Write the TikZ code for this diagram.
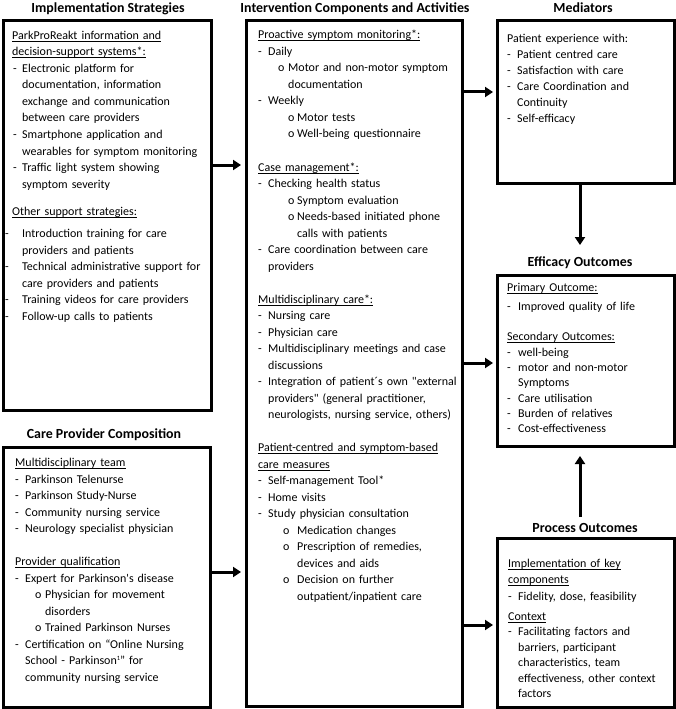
\documentclass[tikz,border=0pt]{standalone}
\usepackage{fontspec}
\setmainfont{Carlito}[Ligatures=TeXOff]
\usetikzlibrary{arrows.meta}
\newcommand{\Ln}[4]{\leavevmode\rlap{\hspace*{#1bp}#2}\hspace*{#3bp}#4\par}
\newcommand{\Hd}[1]{\leavevmode\setbox0\hbox{#1}\rlap{\rule[-2.2bp]{\wd0}{0.7bp}}\box0\par}
\newcommand{\Pl}[1]{\leavevmode #1\par}
\newcommand{\supone}{\raisebox{3.6bp}{\fontsize{6.5bp}{7bp}\selectfont 1}}
\begin{document}
\begin{tikzpicture}[x=1bp,y=-1bp,
  box/.style={draw, line width=3bp, rectangle, anchor=north west, inner sep=0, outer sep=0},
  ttl/.style={font=\bfseries\fontsize{13.9bp}{16bp}\selectfont, inner sep=0, anchor=base},
  body/.style={anchor=base west, inner sep=0, text width=240bp, align=left, font=\fontsize{12bp}{#1}\selectfont},
  arr/.style={line width=3bp, -{Triangle[length=8bp,width=10bp]}}]
\useasboundingbox (0,0) rectangle (676,709);
% boxes
\node[box, minimum width=208bp, minimum height=389bp] (impl) at (3,21) {};
\node[box, minimum width=207bp, minimum height=260bp] (care) at (3,447) {};
\node[box, minimum width=216bp, minimum height=685bp] (mid) at (246,21) {};
\node[box, minimum width=177bp, minimum height=162bp] (med) at (497,21) {};
\node[box, minimum width=177bp, minimum height=171bp] (eff) at (497,275) {};
\node[box, minimum width=177bp, minimum height=169bp] (proc) at (497,538) {};
% titles
\node[ttl] (timpl) at (108,12.5) {Implementation Strategies};
\node[ttl] (tmid) at (355,12.5) {Intervention Components and Activities};
\node[ttl] (tmed) at (583,12.5) {Mediators};
\node[ttl] (teff) at (580,266) {Efficacy Outcomes};
\node[ttl] (tcare) at (104,438) {Care Provider Composition};
\node[ttl] (tproc) at (585,532) {Process Outcomes};
% texts
\node[body=16.5bp] (ximpl) at (12,39.5) {%
\Hd{ParkProReakt information and}
\Hd{decision-support systems*:}
\Ln{1}{-}{10}{Electronic platform for}
\Ln{1}{}{10}{documentation, information}
\Ln{1}{}{10}{exchange and communication}
\Ln{1}{}{10}{between care providers}
\Ln{1}{-}{10}{Smartphone application and}
\Ln{1}{}{10}{wearables for symptom monitoring}
\Ln{1}{-}{10}{Traffic light system showing}
\Ln{1}{}{10}{symptom severity}
\vspace{11bp}
\Hd{Other support strategies:}
\vspace{5.5bp}
\Ln{-7}{-}{10}{Introduction training for care}
\Ln{-7}{}{10}{providers and patients}
\Ln{-7}{-}{10}{Technical administrative support for}
\Ln{-7}{}{10}{care providers and patients}
\Ln{-7}{-}{10}{Training videos for care providers}
\Ln{-7}{-}{10}{Follow-up calls to patients}};
\node[body=16.5bp] (xmid) at (258,39) {%
\Hd{Proactive symptom monitoring*:}
\Ln{0}{-}{10}{Daily}
\Ln{20}{o}{30}{Motor and non-motor symptom}
\Ln{20}{}{30}{documentation}
\Ln{0}{-}{10}{Weekly}
\Ln{30}{o}{39}{Motor tests}
\Ln{30}{o}{39}{Well-being questionnaire}
\vspace{16.5bp}
\Hd{Case management*:}
\Ln{0}{-}{10}{Checking health status}
\Ln{30}{o}{39}{Symptom evaluation}
\Ln{30}{o}{39}{Needs-based initiated phone}
\Ln{30}{}{39}{calls with patients}
\Ln{0}{-}{10}{Care coordination between care}
\Ln{0}{}{10}{providers}
\vspace{16.5bp}
\Hd{Multidisciplinary care*:}
\Ln{0}{-}{10}{Nursing care}
\Ln{0}{-}{10}{Physician care}
\Ln{0}{-}{10}{Multidisciplinary meetings and case}
\Ln{0}{}{10}{discussions}
\Ln{0}{-}{10}{Integration of patient´s own "external}
\Ln{0}{}{10}{providers" (general practitioner,}
\Ln{0}{}{10}{neurologists, nursing service, others)}
\vspace{16.5bp}
\Hd{Patient-centred and symptom-based}
\Hd{care measures}
\Ln{0}{-}{10}{Self-management Tool*}
\Ln{0}{-}{10}{Home visits}
\Ln{0}{-}{10}{Study physician consultation}
\Ln{25}{o}{39}{Medication changes}
\Ln{25}{o}{39}{Prescription of remedies,}
\Ln{25}{}{39}{devices and aids}
\Ln{25}{o}{39}{Decision on further}
\Ln{25}{}{39}{outpatient/inpatient care}};
\node[body=16.5bp] (xcare) at (15,466.5) {%
\Hd{Multidisciplinary team}
\Ln{0}{-}{10}{Parkinson Telenurse}
\Ln{0}{-}{10}{Parkinson Study-Nurse}
\Ln{0}{-}{10}{Community nursing service}
\Ln{0}{-}{10}{Neurology specialist physician}
\vspace{16.5bp}
\Hd{Provider qualification}
\Ln{0}{-}{10}{Expert for Parkinson's disease}
\Ln{20}{o}{30}{Physician for movement}
\Ln{20}{}{30}{disorders}
\Ln{20}{o}{30}{Trained Parkinson Nurses}
\Ln{0}{-}{10}{Certification on “Online Nursing}
\Ln{0}{}{10}{School - Parkinson\supone” for}
\Ln{0}{}{10}{community nursing service}};
\node[body=16bp] (xmed) at (507,42.5) {%
\Pl{Patient experience with:}
\Ln{0}{-}{10}{Patient centred care}
\Ln{0}{-}{10}{Satisfaction with care}
\Ln{0}{-}{10}{Care Coordination and}
\Ln{0}{}{10}{Continuity}
\Ln{0}{-}{10}{Self-efficacy}};
\node[body=15.3bp] (xeff) at (507,291.5) {%
\Hd{Primary Outcome:}
\vspace{3.5bp}
\Ln{0}{-}{11}{Improved quality of life}
\vspace{15.3bp}
\Hd{Secondary Outcomes:}
\Ln{0}{-}{11}{well-being}
\Ln{0}{-}{11}{motor and non-motor}
\Ln{0}{}{11}{Symptoms}
\Ln{0}{-}{11}{Care utilisation}
\Ln{0}{-}{11}{Burden of relatives}
\Ln{0}{-}{11}{Cost-effectiveness}};
\node[body=15.5bp] (xproc) at (508,567.5) {%
\Hd{Implementation of key}
\Hd{components}
\vspace{1.5bp}
\Ln{0}{-}{10}{Fidelity, dose, feasibility}
\vspace{4.5bp}
\Hd{Context}
\Ln{0}{-}{10}{Facilitating factors and}
\Ln{0}{}{10}{barriers, participant}
\Ln{0}{}{10}{characteristics, team}
\Ln{0}{}{10}{effectiveness, other context}
\Ln{0}{}{10}{factors}};
% connectors
\coordinate (r1) at (0,165);
\coordinate (r2) at (0,572);
\coordinate (r3) at (0,92);
\coordinate (r4) at (0,363);
\coordinate (r5) at (0,625);
\coordinate (effin) at (580,245);
\coordinate (procout) at (580,517);
\draw[arr, shorten >=5bp] (impl.east |- r1) -- (mid.west |- r1);
\draw[arr, shorten >=5bp] (care.east |- r2) -- (mid.west |- r2);
\draw[arr, shorten >=4bp] (mid.east |- r3) -- (med.west |- r3);
\draw[arr, shorten >=4bp] (mid.east |- r4) -- (eff.west |- r4);
\draw[arr, shorten >=4bp] (mid.east |- r5) -- (proc.west |- r5);
\draw[arr] (med.south -| effin) -- (effin);
\draw[arr, shorten >=10bp] (procout) -- (eff.south -| procout);
\end{tikzpicture}
\end{document}
